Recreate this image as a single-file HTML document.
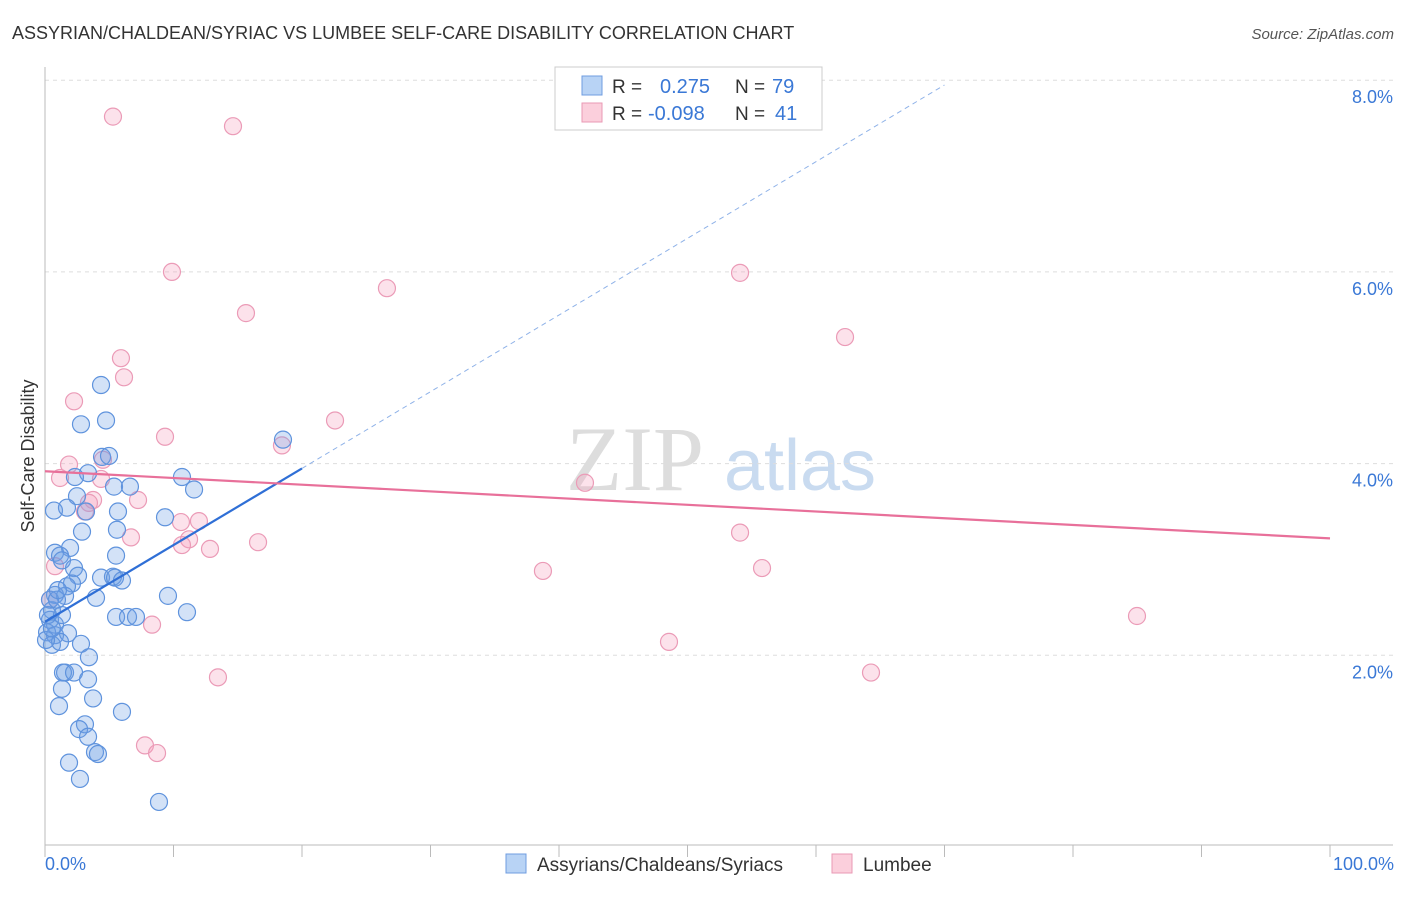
<!DOCTYPE html>
<html><head><meta charset="utf-8"><style>
body{margin:0;background:#fff;font-family:"Liberation Sans",sans-serif;}
</style></head><body>
<svg id="chart" width="1406" height="892" xmlns="http://www.w3.org/2000/svg">
<text x="12" y="39" font-size="18" fill="#333">ASSYRIAN/CHALDEAN/SYRIAC VS LUMBEE SELF-CARE DISABILITY CORRELATION CHART</text>
<text x="1394" y="39" font-size="15" fill="#555" font-style="italic" text-anchor="end">Source: ZipAtlas.com</text>
<text x="0" y="0" transform="translate(34,456) rotate(-90)" font-size="18" fill="#333" text-anchor="middle">Self-Care Disability</text>
<g><text x="635" y="490" font-family="Liberation Serif" font-size="92" fill="#ddd" text-anchor="middle">ZIP</text><text x="800" y="490" font-size="72" fill="#c9dbf0" text-anchor="middle">atlas</text></g>
<g id="grid"></g><g id="axes"></g><g id="pts"></g><g id="trends"></g>
<g>
<rect x="555" y="67" width="267" height="63" fill="#fff" stroke="#ccc"/>
<rect x="582" y="76" width="20" height="19" fill="#b8d3f5" stroke="#6f9de0"/>
<text x="612" y="93" font-size="19" fill="#333">R = </text><text x="660" y="93" font-size="20" fill="#3a78d6">0.275</text>
<text x="735" y="93" font-size="19" fill="#333">N = </text><text x="772" y="93" font-size="20" fill="#3a78d6">79</text>
<rect x="582" y="103" width="20" height="19" fill="#fbcfdc" stroke="#e99ab4"/>
<text x="612" y="120" font-size="19" fill="#333">R = </text><text x="648" y="120" font-size="20" fill="#3a78d6">-0.098</text>
<text x="735" y="120" font-size="19" fill="#333">N = </text><text x="775" y="120" font-size="20" fill="#3a78d6">41</text>
</g>
<g>
<rect x="506" y="854" width="20" height="19" fill="#b8d3f5" stroke="#6f9de0"/>
<text x="537" y="871" font-size="19" fill="#333">Assyrians/Chaldeans/Syriacs</text>
<rect x="832" y="854" width="20" height="19" fill="#fbcfdc" stroke="#e99ab4"/>
<text x="863" y="871" font-size="19" fill="#333">Lumbee</text>
</g>
<text x="45" y="870" font-size="18" fill="#3a78d6">0.0%</text>
<text x="1394" y="870" font-size="18" fill="#3a78d6" text-anchor="end">100.0%</text>
</svg>
<script>
const blueX=[4.36,2.80,4.75,4.44,4.98,3.35,2.33,5.37,6.61,10.66,11.60,18.52,2.49,0.70,1.71,3.19,5.68,9.34,2.88,5.60,1.95,0.78,1.17,1.32,5.53,2.26,2.57,4.36,5.29,5.45,2.10,1.71,5.99,0.78,1.56,3.97,9.57,11.05,5.53,6.46,7.08,0.54,0.39,0.78,1.32,0.16,0.78,1.79,0.54,1.17,2.80,3.42,1.56,1.40,2.26,1.32,3.35,3.74,1.09,5.99,3.11,2.65,3.35,3.89,4.12,1.87,2.72,8.87,0.39,0.23,0.93,0.08,0.54,1.01];
const blueY=[4.82,4.41,4.45,4.07,4.08,3.90,3.86,3.76,3.76,3.86,3.73,4.25,3.66,3.51,3.54,3.50,3.50,3.44,3.29,3.31,3.12,3.07,3.04,2.99,3.04,2.91,2.83,2.81,2.82,2.81,2.75,2.72,2.78,2.63,2.62,2.60,2.62,2.45,2.40,2.40,2.40,2.47,2.37,2.32,2.42,2.24,2.21,2.23,2.11,2.14,2.12,1.98,1.82,1.82,1.82,1.65,1.75,1.55,1.47,1.41,1.28,1.23,1.15,0.99,0.97,0.88,0.71,0.47,2.58,2.42,2.58,2.16,2.28,2.68];
const pinkX=[5.29,14.63,9.88,26.61,15.64,54.09,62.26,5.91,6.15,2.26,22.57,9.34,18.44,4.51,1.87,4.36,1.17,3.74,3.42,7.24,3.11,10.58,11.98,42.02,6.69,11.21,10.66,12.84,16.58,54.09,0.78,38.75,55.80,8.33,48.56,84.98,13.46,64.28,7.78,8.72,0.39];
const pinkY=[7.62,7.52,6.00,5.83,5.57,5.99,5.32,5.10,4.90,4.65,4.45,4.28,4.19,4.04,3.99,3.84,3.85,3.62,3.59,3.62,3.50,3.39,3.40,3.80,3.23,3.21,3.15,3.11,3.18,3.28,2.93,2.88,2.91,2.32,2.14,2.41,1.77,1.82,1.06,0.98,2.58];
const blueTrend=[2.35,0.08];   // intercept, slope
const pinkTrend=[3.92,-0.007];
const yTicks=[2,4,6,8];
const xTicks=[0,10,20,30,40,50,60,70,80,90,100];
const NS="http://www.w3.org/2000/svg";
const sx=v=>45+v*12.85, sy=v=>847-v*95.85;
function mk(tag,attrs,parent){const e=document.createElementNS(NS,tag);for(const k in attrs)e.setAttribute(k,attrs[k]);document.getElementById(parent).appendChild(e);return e;}
yTicks.forEach(t=>{
 const l=mk('line',{x1:45,x2:1393,y1:sy(t),y2:sy(t),stroke:'#ddd','stroke-dasharray':'4,4'},'grid');
 
 
 const tx=mk('text',{x:1393,y:sy(t)+23,'font-size':18,fill:'#3a78d6','text-anchor':'end'},'grid');
 tx.textContent=t.toFixed(1)+'%';
 
 
});
mk('line',{x1:45,x2:45,y1:67,y2:845,stroke:'#bbb'},'axes');
mk('line',{x1:45,x2:1393,y1:845,y2:845,stroke:'#bbb'},'axes');
xTicks.forEach(t=>{
 const l=mk('line',{x1:sx(t),x2:sx(t),y1:845,y2:857,stroke:'#bbb'},'axes');
 
 
});
pinkX.forEach((x,i)=>{
 const c=mk('circle',{cx:sx(x),cy:sy(pinkY[i]),r:8.5,fill:'rgba(246,160,190,0.3)',stroke:'#eb9bb7','stroke-width':1.2},'pts');
 
 
});
blueX.forEach((x,i)=>{
 const c=mk('circle',{cx:sx(x),cy:sy(blueY[i]),r:8.5,fill:'rgba(110,160,230,0.3)',stroke:'#5f93dd','stroke-width':1.2},'pts');
 
 
});
const b=x=>blueTrend[0]+blueTrend[1]*x, p=x=>pinkTrend[0]+pinkTrend[1]*x;
const bl=mk('line',{x1:sx(0),y1:sy(b(0)),x2:sx(20),y2:sy(b(20)),stroke:'#2f6fd6','stroke-width':2.2},'trends');


const bd=mk('line',{x1:sx(20),y1:sy(b(20)),x2:sx(70),y2:sy(b(70)),stroke:'#8fb2e8','stroke-width':1,'stroke-dasharray':'5,4'},'trends');


const pl=mk('line',{x1:sx(0),y1:sy(p(0)),x2:sx(100),y2:sy(p(100)),stroke:'#e8709a','stroke-width':2.2},'trends');


</script>
</body></html>
